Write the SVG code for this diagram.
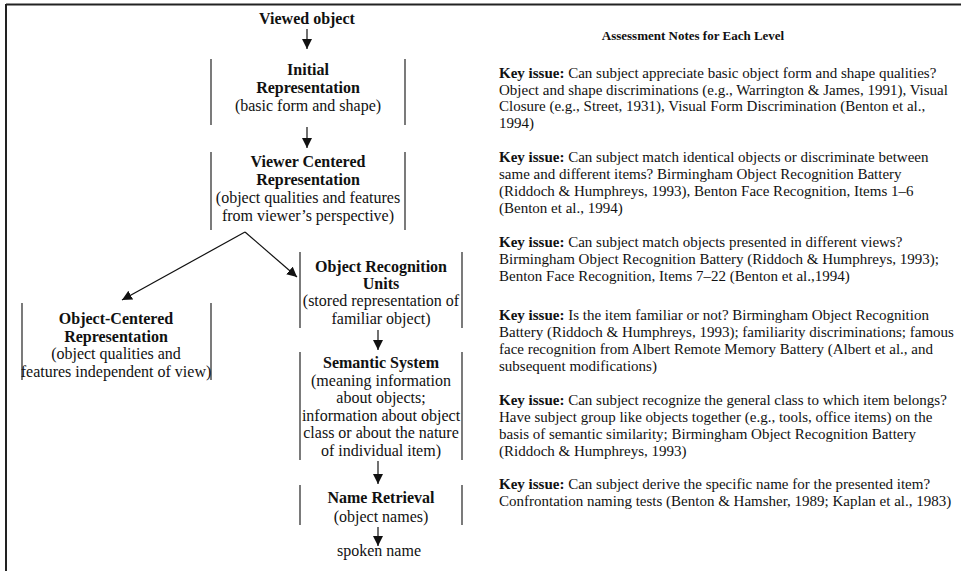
<svg xmlns="http://www.w3.org/2000/svg" width="961" height="571" viewBox="0 0 961 571">
<style>
.b{font-family:"Liberation Serif","Times New Roman",serif;font-weight:bold;font-size:16px;fill:#111;text-anchor:middle}
.n{font-family:"Liberation Serif","Times New Roman",serif;font-size:16px;fill:#111;text-anchor:middle}
.r{font-family:"Liberation Serif","Times New Roman",serif;font-size:15px;fill:#111}
.r tspan.k{font-weight:bold}
.t{font-family:"Liberation Serif","Times New Roman",serif;font-weight:bold;font-size:13px;fill:#111;text-anchor:middle}
.br{stroke:#222;stroke-width:1.2;fill:none}
.ar{stroke:#111;stroke-width:1.2;fill:none;marker-end:url(#ah)}
</style>
<defs>
<marker id="ah" markerUnits="userSpaceOnUse" markerWidth="10" markerHeight="12" refX="10" refY="5" orient="auto">
<path d="M0,0 L10,5 L0,10 z" fill="#111"/>
</marker>
</defs>
<rect width="961" height="571" fill="#fff"/>
<g id="frame">
<line x1="6" y1="4.5" x2="961" y2="4.5" stroke="#222" stroke-width="2"/>
<line x1="6" y1="4" x2="6" y2="571" stroke="#222" stroke-width="2"/>
</g>
<g id="connectors">
<line class="ar" x1="307" y1="29" x2="307" y2="49"/>
<line class="ar" x1="307" y1="127" x2="307" y2="148"/>
<line class="ar" x1="245" y1="232" x2="122" y2="300"/>
<line class="ar" x1="245" y1="232" x2="297" y2="277"/>
<line class="ar" x1="378" y1="330" x2="378" y2="350"/>
<line class="ar" x1="378" y1="461" x2="378" y2="484"/>
<line class="ar" x1="378" y1="527" x2="378" y2="546"/>
</g>
<g id="viewed-object">
<text class="b" x="307" y="24">Viewed object</text>
</g>
<g id="initial-representation">
<line class="br" x1="211" y1="59" x2="211" y2="125"/>
<line class="br" x1="405" y1="59" x2="405" y2="125"/>
<text class="b" x="308" y="75">Initial</text>
<text class="b" x="308" y="93">Representation</text>
<text class="n" x="308" y="111">(basic form and shape)</text>
</g>
<g id="viewer-centered">
<line class="br" x1="211" y1="152" x2="211" y2="230"/>
<line class="br" x1="405" y1="152" x2="405" y2="230"/>
<text class="b" x="308" y="167">Viewer Centered</text>
<text class="b" x="308" y="185">Representation</text>
<text class="n" x="308" y="203">(object qualities and features</text>
<text class="n" x="308" y="221">from viewer’s perspective)</text>
</g>
<g id="object-centered">
<line class="br" x1="22" y1="303" x2="22" y2="380"/>
<line class="br" x1="211" y1="303" x2="211" y2="380"/>
<text class="b" x="116" y="324">Object-Centered</text>
<text class="b" x="116" y="342">Representation</text>
<text class="n" x="116" y="359">(object qualities and</text>
<text class="n" x="116" y="377">features independent of view)</text>
</g>
<g id="object-recognition-units">
<line class="br" x1="300" y1="252" x2="300" y2="328"/>
<line class="br" x1="462" y1="252" x2="462" y2="328"/>
<text class="b" x="381" y="272">Object Recognition</text>
<text class="b" x="381" y="289">Units</text>
<text class="n" x="381" y="306">(stored representation of</text>
<text class="n" x="381" y="324">familiar object)</text>
</g>
<g id="semantic-system">
<line class="br" x1="300" y1="352" x2="300" y2="460"/>
<line class="br" x1="462" y1="352" x2="462" y2="460"/>
<text class="b" x="381" y="368">Semantic System</text>
<text class="n" x="381" y="386">(meaning information</text>
<text class="n" x="381" y="403">about objects;</text>
<text class="n" x="381" y="421">information about object</text>
<text class="n" x="381" y="438">class or about the nature</text>
<text class="n" x="381" y="456">of individual item)</text>
</g>
<g id="name-retrieval">
<line class="br" x1="300" y1="485" x2="300" y2="525"/>
<line class="br" x1="462" y1="485" x2="462" y2="525"/>
<text class="b" x="381" y="503">Name Retrieval</text>
<text class="n" x="381" y="522">(object names)</text>
</g>
<g id="spoken-name">
<text class="n" x="379" y="556">spoken name</text>
</g>
<g id="notes">
<text class="t" x="693" y="40">Assessment Notes for Each Level</text>
<text class="r" x="499" y="78"><tspan class="k">Key issue:</tspan> Can subject appreciate basic object form and shape qualities?</text>
<text class="r" x="499" y="95">Object and shape discriminations (e.g., Warrington &amp; James, 1991), Visual</text>
<text class="r" x="499" y="111">Closure (e.g., Street, 1931), Visual Form Discrimination (Benton et al.,</text>
<text class="r" x="499" y="128">1994)</text>
<text class="r" x="499" y="162"><tspan class="k">Key issue:</tspan> Can subject match identical objects or discriminate between</text>
<text class="r" x="499" y="179">same and different items? Birmingham Object Recognition Battery</text>
<text class="r" x="499" y="196">(Riddoch &amp; Humphreys, 1993), Benton Face Recognition, Items 1–6</text>
<text class="r" x="499" y="213">(Benton et al., 1994)</text>
<text class="r" x="499" y="247"><tspan class="k">Key issue:</tspan> Can subject match objects presented in different views?</text>
<text class="r" x="499" y="264">Birmingham Object Recognition Battery (Riddoch &amp; Humphreys, 1993);</text>
<text class="r" x="499" y="281">Benton Face Recognition, Items 7–22 (Benton et al.,1994)</text>
<text class="r" x="499" y="320"><tspan class="k">Key issue:</tspan> Is the item familiar or not? Birmingham Object Recognition</text>
<text class="r" x="499" y="337">Battery (Riddoch &amp; Humphreys, 1993); familiarity discriminations; famous</text>
<text class="r" x="499" y="354">face recognition from Albert Remote Memory Battery (Albert et al., and</text>
<text class="r" x="499" y="371">subsequent modifications)</text>
<text class="r" x="499" y="405"><tspan class="k">Key issue:</tspan> Can subject recognize the general class to which item belongs?</text>
<text class="r" x="499" y="422">Have subject group like objects together (e.g., tools, office items) on the</text>
<text class="r" x="499" y="439">basis of semantic similarity; Birmingham Object Recognition Battery</text>
<text class="r" x="499" y="456">(Riddoch &amp; Humphreys, 1993)</text>
<text class="r" x="499" y="489"><tspan class="k">Key issue:</tspan> Can subject derive the specific name for the presented item?</text>
<text class="r" x="499" y="506">Confrontation naming tests (Benton &amp; Hamsher, 1989; Kaplan et al., 1983)</text>
</g>
</svg>
